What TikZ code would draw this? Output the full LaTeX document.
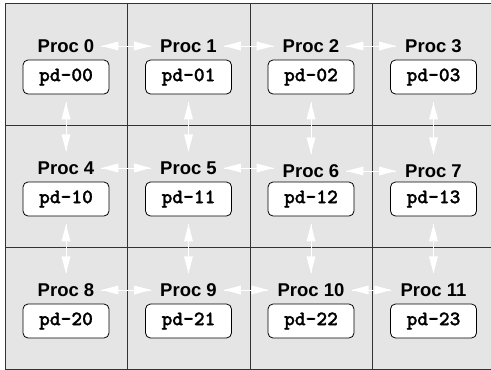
\documentclass[tikz,border=0pt]{standalone}
\usepackage{fontspec}
\setmainfont{Liberation Sans}
\newfontfamily\pdfont{lmmonolt10-bold.otf}[FakeBold=1.2]
\usetikzlibrary{calc}
\definecolor{cellgray}{HTML}{E5E5E5}
\definecolor{gridcol}{HTML}{333333}
\begin{document}
\begin{tikzpicture}[x=1pt,y=-1pt,
  proclabel/.style={font=\fontsize{18.5}{20}\selectfont\bfseries, inner sep=1pt},
  pdbox/.style={draw=black, line width=0.8pt, fill=white, rounded corners=5pt,
    minimum width=86pt, minimum height=34pt, inner sep=0pt,
    font=\fontsize{20.5}{22}\selectfont\pdfont},
  linkline/.style={draw=white, line width=1pt},
  tiphead/.style={fill=white},
  gridline/.style={draw=gridcol, line width=0.9pt}
]
\useasboundingbox (0,0) rectangle (491,370);
\fill[cellgray] (5,3) rectangle (495,369);
\foreach \x in {5,127.5,250,372.5,495} \draw[gridline] (\x,3) -- (\x,369);
\foreach \y in {3,125,247,369} \draw[gridline] (5,\y) -- (495,\y);
\foreach \r in {0,1,2} {
  \foreach \c in {0,1,2,3} {
    \pgfmathtruncatemacro{\n}{4*\r+\c}
    \pgfmathsetmacro{\cx}{66+122.5*\c}
    \pgfmathsetmacro{\off}{(\r==1 && \c>1) ? 3 : 0}
    \pgfmathsetmacro{\ly}{3+122*\r+43+\off}
    \pgfmathsetmacro{\by}{3+122*\r+74}
    \node[proclabel] (p\n) at (\cx,\ly) {Proc \n};
    \node[pdbox] (b\n) at (\cx,\by) {pd-\r\c};
  }
}
% horizontal links
\foreach \a/\b in {0/1,1/2,2/3,4/5,5/6,6/7,8/9,9/10,10/11} {
  \coordinate (hs\a) at ($(p\a.east)+(6,0)$);
  \coordinate (he\a) at ($(p\a.east -| p\b.west)+(-8,0)$);
  \draw[linkline] (hs\a) -- (he\a);
  \fill[tiphead] (hs\a) -- ++(17,-4.5) -- ++(0,9) -- cycle;
  \fill[tiphead] (he\a) -- ++(-17,-4.5) -- ++(0,9) -- cycle;
}
% vertical links
\foreach \a in {0,...,7} {
  \pgfmathtruncatemacro{\b}{\a+4}
  \coordinate (vs\a) at ($(b\a.south)+(0,8)$);
  \coordinate (ve\a) at ($(b\a.south |- p\b.north)+(0,-9)$);
  \draw[linkline] (vs\a) -- (ve\a);
  \fill[tiphead] (vs\a) -- ++(-4.5,17) -- ++(9,0) -- cycle;
  \fill[tiphead] (ve\a) -- ++(-4.5,-17) -- ++(9,0) -- cycle;
}
\end{tikzpicture}
\end{document}
